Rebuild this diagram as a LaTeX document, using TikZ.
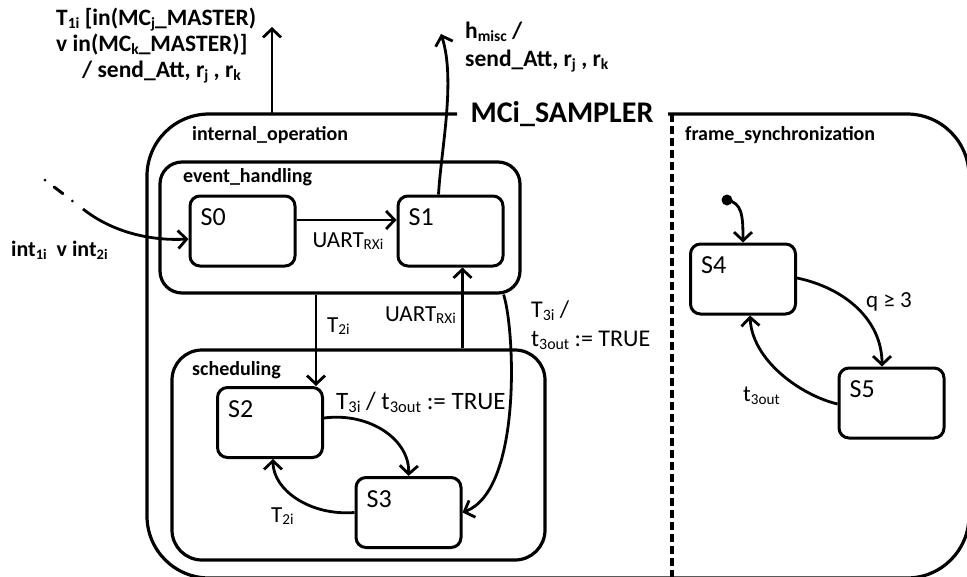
\documentclass[tikz,border=0pt]{standalone}
\usepackage{fontspec}
\setmainfont{Carlito}
\usetikzlibrary{arrows.meta}
% small lowered index, as in word-processor subscripts
\newcommand\lo[1]{\raisebox{-0.12em}{\scalebox{0.66}{#1}}}

\begin{document}
\begin{tikzpicture}[x=1pt,y=-1pt,
  box/.style={draw, line width=3.2pt, rounded corners=#1, inner sep=0pt},
  state/.style={draw, line width=3pt, rounded corners=10pt, minimum width=105pt,
                minimum height=70pt, inner sep=0pt,
                label={[anchor=north west, inner sep=0pt, xshift=12pt, yshift=-14pt,
                        font=\fontsize{26}{30}\selectfont]north west:#1}},
  trans/.style={line width=2.8pt, -{Straight Barb[length=8.5pt,width=18pt]}},
  lbl/.style={font=\fontsize{23}{27}\selectfont, inner sep=0pt},
  blbl/.style={font=\bfseries\fontsize{20}{24}\selectfont, inner sep=0pt, anchor=west},
  elbl/.style={font=\bfseries\fontsize{23.5}{28}\selectfont, inner sep=0pt, align=left},
]
\useasboundingbox (0,0) rectangle (967,576);
\clip (0,0) rectangle (967,576);

% outer state, top edge interrupted by its name
\draw[line width=3.2pt, rounded corners=62pt]
  (668,114) -- (969,114) -- (969,578) -- (147,578) -- (147,114) -- (457,114);
\node[font=\bfseries\fontsize{30}{34}\selectfont, inner sep=0pt] (title) at (562,114) {MCi\_SAMPLER};
\draw[line width=3.2pt, dash pattern=on 8pt off 4pt] (672,114) -- (672,580);

% region names
\node[blbl] (ioname) at (192,135) {internal\_operation};
\node[blbl] (fsname) at (685,135) {frame\_synchronization};

% sub-states of internal_operation
\node[box=22pt, minimum width=360pt, minimum height=131pt] (eh) at (340,227.5) {};
\node[blbl] (ehname) at (183,177) {event\_handling};
\node[box=30pt, minimum width=373pt, minimum height=210pt] (sch) at (358.5,455) {};
\node[blbl] (schname) at (192,370) {scheduling};

% states
\node[state=S0] (S0) at (242.5,231) {};
\node[state=S1] (S1) at (450.5,231) {};
\node[state=S2] (S2) at (270,422.5) {};
\node[state=S3] (S3) at (408.5,512.5) {};
\node[state=S4] (S4) at (743,279) {};
\node[state=S5] (S5) at (891.5,403) {};

% free ends
\coordinate (ioTop) at (272,114);
\coordinate (t1end) at (272,27);
\coordinate (hEnd) at (441,34);
\coordinate (in0) at (45,180);
\coordinate (in1) at (83,209);
\coordinate (t2x) at ([xshift=-8pt]S2.north east);
\coordinate (ux) at ([xshift=12pt]S1.south);
\coordinate (ehOut) at ([xshift=-18pt]eh.south east);
\fill (727,200) circle (5.5pt) coordinate (init);

% outgoing transitions
\draw[trans] (ioTop) -- (t1end);
\node[elbl, anchor=north west] (t1lbl) at (56,8)
  {T\lo{1i} [in(MC\lo{j}\_MASTER)\\[-2pt]v in(MC\lo{k}\_MASTER)]\\[-2pt]\hspace*{26pt}/ send\_Att, r\lo{j} , r\lo{k}};
\draw[trans] ([xshift=-12pt]S1.north) .. controls (441,150) and (456,80) .. (hEnd);
\node[elbl, anchor=north west] (hlbl) at (465,22) {h\lo{misc} /\\send\_Att, r\lo{j} , r\lo{k}};

% incoming transition
\draw[line width=3pt, line cap=round, dash pattern=on 0pt off 11.5pt on 11pt off 12pt on 0pt off 20pt] (in0) -- (in1);
\draw[trans] (in1) .. controls (112,232) and (150,241) .. ([yshift=-8pt]S0.west);
\node[font=\bfseries\fontsize{22}{26}\selectfont, inner sep=0pt, anchor=west]
  (inlbl) at (11,250) {int\lo{1i}\ \ v int\lo{2i}};

% event_handling
\draw[trans] ([yshift=11pt]S0.east) -- ([yshift=11pt]S1.west);
\node[lbl] (l01) at (348,241) {UART\lo{RXi}};

% between event_handling and scheduling
\draw[trans] (t2x |- eh.south) -- (t2x);
\node[lbl, anchor=west] (l2a) at (327,326) {T\lo{2i}};
\draw[trans] (ux |- sch.north) -- (ux);
\node[lbl, anchor=west] (l2b) at (385,315) {UART\lo{RXi}};
\draw[trans] (ehOut) .. controls (515,330) and (522,490) .. (S3.east);
\node[lbl, anchor=west, align=left, font=\fontsize{24}{28}\selectfont] (l3a) at (531,325)
  {T\lo{3i} /\\[1pt]t\lo{3out} := TRUE};

% scheduling
\draw[trans] ([yshift=4.5pt]S2.east) .. controls (370,412) and (410,440) .. (S3.north);
\node[lbl, anchor=west, font=\fontsize{25}{29}\selectfont] (l23) at (336,402) {T\lo{3i} / t\lo{3out} := TRUE};
\draw[trans] (S3.west) .. controls (310,516) and (273,490) .. ([xshift=3pt]S2.south);
\node[lbl, anchor=west] (l32) at (271,516) {T\lo{2i}};

% frame_synchronization
\draw[trans] (init) .. controls (742,203) and (743,215) .. (S4.north);
\draw[trans] ([yshift=1pt]S4.east) .. controls (845,288) and (882,320) .. ([xshift=-9.5pt]S5.north);
\node[lbl, anchor=west] (l45) at (866,302) {q ≥ 3};
\draw[trans] ([yshift=-1pt]S5.west) .. controls (800,395) and (752,360) .. ([xshift=7pt]S4.south);
\node[lbl, anchor=west] (l54) at (743,396) {t\lo{3out}};
\end{tikzpicture}
\end{document}
